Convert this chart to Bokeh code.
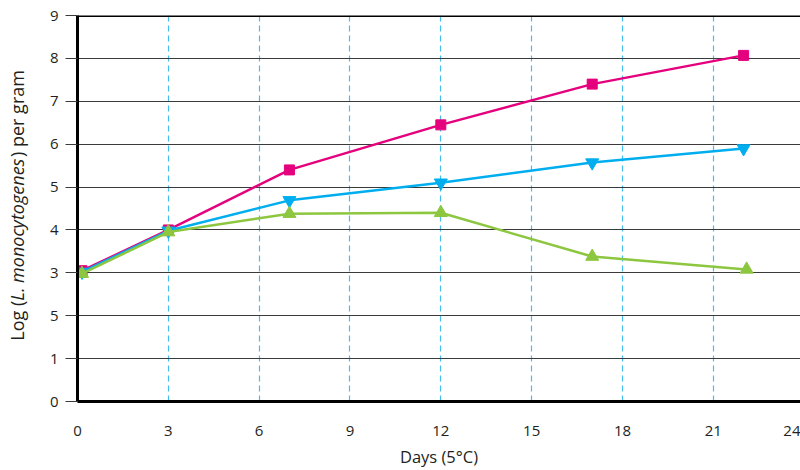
import math
from bokeh.plotting import figure
from bokeh.layouts import row
from bokeh.models import FixedTicker, Span, Label, Range1d
from bokeh.embed import file_html
from bokeh.resources import INLINE

# ---- data ----
days_pink = [0.15, 3, 7, 12, 17, 22]
log_pink = [3.05, 4.0, 5.4, 6.45, 7.4, 8.07]

days_blue = [0.15, 3, 7, 12, 17, 22]
log_blue = [3.02, 3.98, 4.69, 5.1, 5.57, 5.9]

days_green = [0.15, 3, 7, 12, 17, 22.1]
log_green = [2.98, 3.95, 4.38, 4.4, 3.38, 3.08]

y_ticks = [0, 1, 2, 3, 4, 5, 6, 7, 8, 9]
y_tick_labels = {2: "5"}  # as printed in the reference
x_ticks = [0, 3, 6, 9, 12, 15, 18, 21, 23.6]
x_tick_labels = {23.6: "24"}
x_grid_days = [3, 6, 9, 12, 15, 18, 21]

PINK = "#e5007d"
BLUE = "#00aeef"
GREEN = "#8dc63f"
DASH = "#45bdee"
TXT = "#231f20"
FONT = "Open Sans"

yr = Range1d(0, 9)

p = figure(width=770, height=470, output_backend="svg", toolbar_location=None,
           x_range=Range1d(0, 23.88), y_range=yr,
           min_border_left=47, min_border_right=0, min_border_top=15, min_border_bottom=69)
p.outline_line_color = None
p.background_fill_color = "white"
p.border_fill_color = "white"

# grids
p.ygrid.ticker = FixedTicker(ticks=y_ticks)
p.ygrid.grid_line_color = "#3a3a3a"
p.ygrid.grid_line_width = 1
p.xgrid.ticker = FixedTicker(ticks=x_grid_days)
p.xgrid.grid_line_color = DASH
p.xgrid.grid_line_width = 1.2
p.xgrid.grid_line_dash = "6 4"

# axes
p.yaxis.ticker = FixedTicker(ticks=y_ticks)
p.yaxis.major_label_overrides = y_tick_labels
p.yaxis.axis_line_color = "black"
p.yaxis.axis_line_width = 3
p.yaxis.major_tick_out = 12
p.yaxis.major_tick_in = 0
p.yaxis.major_tick_line_color = "#3a3a3a"
p.yaxis.minor_tick_line_color = None
p.yaxis.major_label_standoff = 7
p.yaxis.major_label_text_font = FONT
p.yaxis.major_label_text_font_size = "15px"
p.yaxis.major_label_text_color = TXT

p.xaxis.ticker = FixedTicker(ticks=x_ticks)
p.xaxis.major_label_overrides = x_tick_labels
p.xaxis.axis_line_color = "black"
p.xaxis.axis_line_width = 3
p.xaxis.major_tick_out = 0
p.xaxis.major_tick_in = 0
p.xaxis.minor_tick_line_color = None
p.xaxis.major_label_standoff = 24
p.xaxis.major_label_text_font = FONT
p.xaxis.major_label_text_font_size = "15px"
p.xaxis.major_label_text_color = TXT
p.xaxis.axis_label = "Days (5°C)"
p.xaxis.axis_label_text_font = FONT
p.xaxis.axis_label_text_font_style = "normal"
p.xaxis.axis_label_text_font_size = "16.5px"
p.xaxis.axis_label_text_color = TXT
p.xaxis.axis_label_text_line_height = 1.0
p.xaxis.axis_label_standoff = 6

# top border
p.add_layout(Span(location=9, dimension="width", line_color="black", line_width=3))

# series
p.line(days_pink, log_pink, color=PINK, line_width=2.5)
p.scatter(days_pink, log_pink, marker="square", size=10, color=PINK)

p.line(days_blue, log_blue, color=BLUE, line_width=2.5)
p.scatter(days_blue, log_blue, marker="inverted_triangle", size=13, color=BLUE)

p.line(days_green, log_green, color=GREEN, line_width=2.5)
p.scatter(days_green, log_green, marker="triangle", size=13, color=GREEN)

# narrow side figure holding the y-axis title (italic species name)
lf = figure(width=30, height=470, output_backend="svg", toolbar_location=None,
            x_range=Range1d(0, 30), y_range=yr,
            min_border_left=0, min_border_right=0, min_border_top=15, min_border_bottom=69)
lf.axis.visible = False
lf.grid.visible = False
lf.outline_line_color = None
lf.border_fill_color = "white"

lab_kw = dict(x=16, x_units="data", y_units="data", angle=math.pi / 2,
              text_font=FONT, text_font_size="18px", text_color=TXT,
              text_baseline="middle")
y_a = 2.35
y_b = 5.70
lf.add_layout(Label(y=y_a, text="Log (", text_align="right", **lab_kw))
lf.add_layout(Label(y=y_a, text="L. monocytogenes", text_align="left",
                    text_font_style="italic", **lab_kw))
lf.add_layout(Label(y=y_b, text=") per gram", text_align="left", **lab_kw))

layout = row(lf, p)
open("out.html", "w").write(file_html(layout, INLINE))
